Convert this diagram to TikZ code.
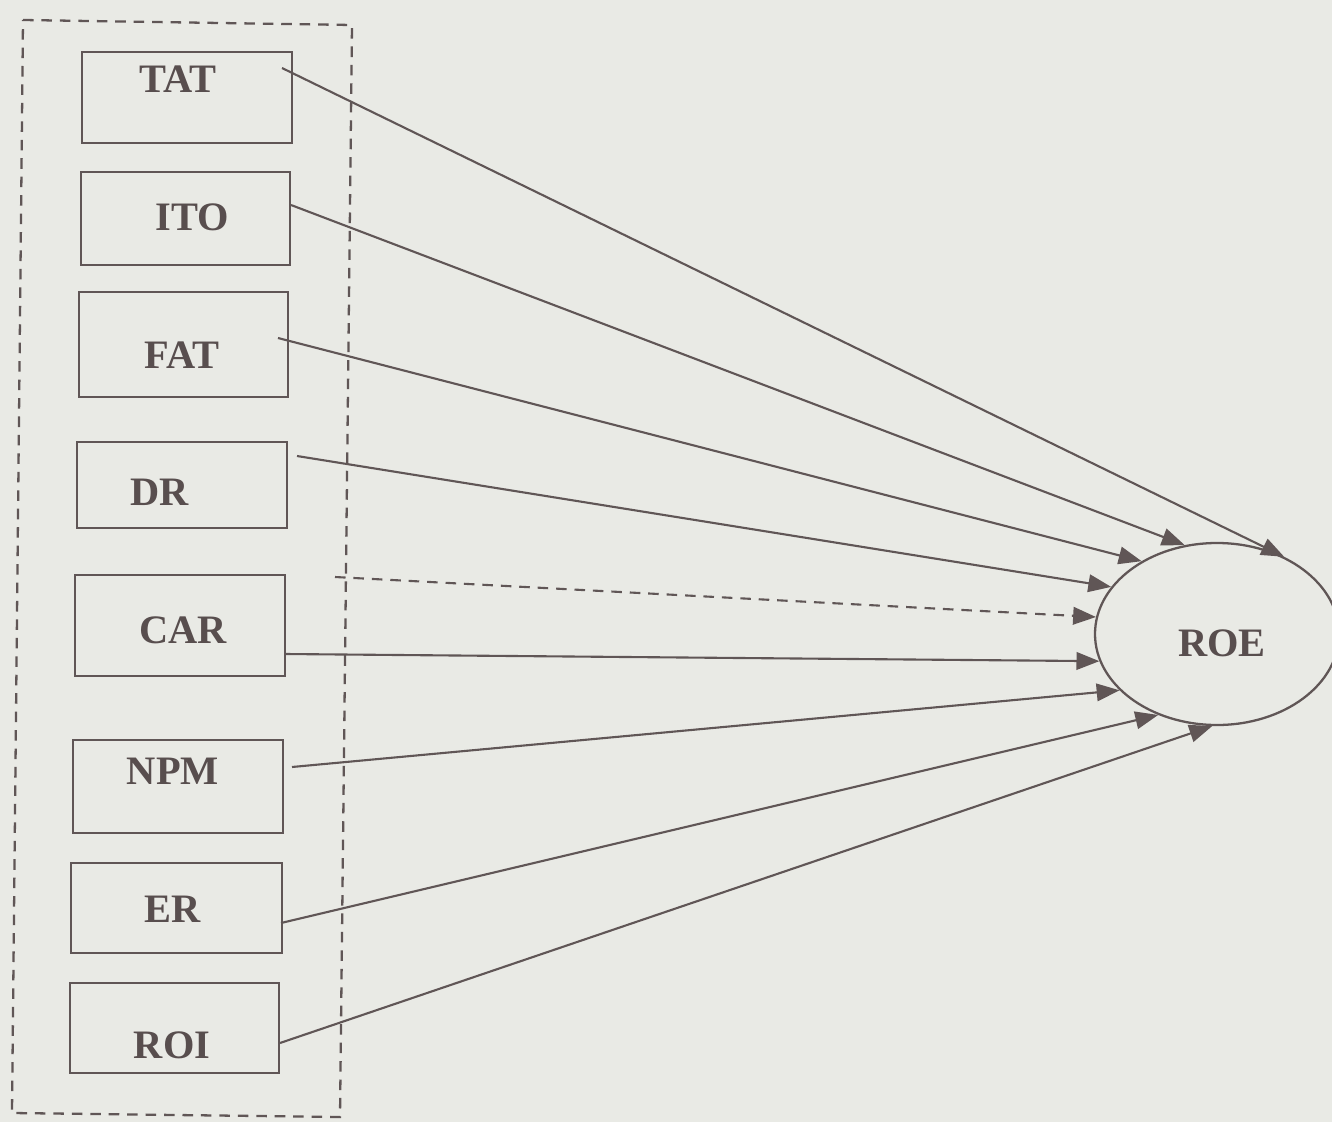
\documentclass[tikz,border=0pt]{standalone}
\usepackage{fontspec}
\setmainfont{Liberation Serif}
\usetikzlibrary{arrows.meta,shapes.geometric}
\definecolor{bg}{RGB}{233,234,229}
\definecolor{ink}{RGB}{96,86,86}
\definecolor{txt}{RGB}{88,78,78}
\tikzset{
  box/.style={draw=ink, line width=1.3pt, inner sep=0pt},
  lbl/.style={text=txt, font=\fontsize{23}{26}\selectfont\bfseries, inner sep=0pt},
  conn/.style={draw=ink, line width=1.2pt, -{Triangle[length=13pt,width=10pt]}},
  dsh/.style={dash pattern=on 6pt off 4.5pt},
}
\begin{document}
\begin{tikzpicture}[x=0.02cm,y=-0.02cm]
\useasboundingbox (0,0) rectangle (1332,1122);
\fill[bg] (0,0) rectangle (1332,1122);
% outer dashed frame
\draw[ink, line width=1.3pt, dsh] (23,20) -- (352,25) -- (340,1117) -- (12,1113) -- cycle;
% boxes
\node[box, minimum width=210*0.02cm, minimum height=91*0.02cm] (tat) at (187,97.5) {};
\node[box, minimum width=209*0.02cm, minimum height=93*0.02cm] (ito) at (185.5,218.5) {};
\node[box, minimum width=209*0.02cm, minimum height=105*0.02cm] (fat) at (183.5,344.5) {};
\node[box, minimum width=210*0.02cm, minimum height=86*0.02cm] (dr) at (182,485) {};
\node[box, minimum width=210*0.02cm, minimum height=101*0.02cm] (car) at (180,625.5) {};
\node[box, minimum width=210*0.02cm, minimum height=93*0.02cm] (npm) at (178,786.5) {};
\node[box, minimum width=211*0.02cm, minimum height=90*0.02cm] (er) at (176.5,908) {};
\node[box, minimum width=209*0.02cm, minimum height=90*0.02cm] (roi) at (174.5,1028) {};
% labels
\node[lbl] (ttat) at (178,79) {TAT};
\node[lbl] (tito) at (192,217) {ITO};
\node[lbl] (tfat) at (182,355) {FAT};
\node[lbl] (tdr) at (160,492) {DR};
\node[lbl] (tcar) at (183,630) {CAR};
\node[lbl] (tnpm) at (173,771) {NPM};
\node[lbl] (ter) at (173,909) {ER};
\node[lbl] (troi) at (172,1045) {ROI};
% ROE ellipse
\node[ellipse, draw=ink, line width=1.3pt, inner sep=0pt, minimum width=244*0.02cm, minimum height=182*0.02cm] (roe) at (1217,634) {};
\node[lbl] (troe) at (1222,643) {ROE};
% connector start points
\coordinate (ctat) at (282,68);
\coordinate (cito) at (291,205);
\coordinate (cfat) at (278,338);
\coordinate (cdr) at (297,456);
\coordinate (cdash) at (335,577);
\coordinate (ccar) at (285,654);
\coordinate (cnpm) at (292,767);
\coordinate (cer) at (281,923);
\coordinate (croi) at (280,1043);
% connectors
\draw[conn] (ctat) -- (roe.49.4);
\draw[conn] (cito) -- (roe.110.3);
\draw[conn] (cfat) -- (roe.136);
\draw[conn] (cdr) -- (roe.156.7);
\draw[conn, dsh] (cdash) -- (roe.172.2);
\draw[conn] (ccar) -- (roe.193.2);
\draw[conn] (cnpm) -- (roe.210);
\draw[conn] (cer) -- (roe.234.5);
\draw[conn] (croi) -- (roe.267.6);
\end{tikzpicture}
\end{document}
